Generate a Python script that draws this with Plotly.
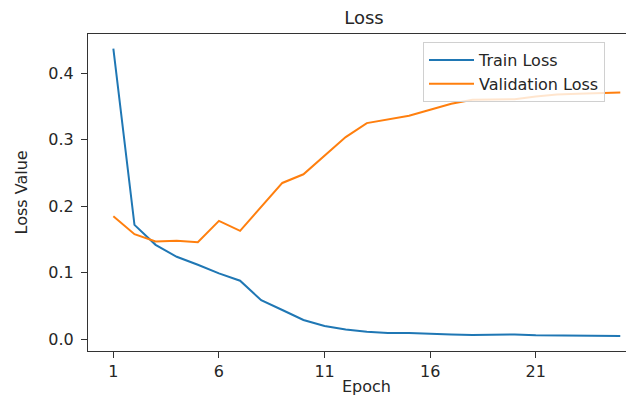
import plotly.graph_objects as go

epochs = list(range(1, 26))
train_loss = [0.437, 0.172, 0.142, 0.124, 0.112, 0.099, 0.088, 0.0587, 0.0440, 0.0290,
              0.0200, 0.0148, 0.0112, 0.0095, 0.0095, 0.0080, 0.0072, 0.0066, 0.0065, 0.0073,
              0.0060, 0.0055, 0.0052, 0.0050, 0.0048]
val_loss = [0.185, 0.158, 0.147, 0.148, 0.146, 0.178, 0.163, 0.199, 0.235, 0.248,
            0.276, 0.304, 0.325, 0.330, 0.336, 0.345, 0.354, 0.360, 0.361, 0.361,
            0.365, 0.368, 0.369, 0.370, 0.371]
x_ticks = [1, 6, 11, 16, 21]
y_ticks = [0.0, 0.1, 0.2, 0.3, 0.4]

FONT = "DejaVu Sans"
TXT = "#262626"

# page body has an 8px default margin; the figure is offset by it
OFF = 8
W, H = 634 - OFF, 396 - OFF
L, T, B = 88 - OFF, 34 - OFF, 396 - 351
PW, PH = W - L, H - T - B

fig = go.Figure()
fig.add_trace(go.Scatter(x=epochs, y=train_loss, mode="lines", name="Train Loss",
                         line=dict(color="#1f77b4", width=2)))
fig.add_trace(go.Scatter(x=epochs, y=val_loss, mode="lines", name="Validation Loss",
                         line=dict(color="#ff7f0e", width=2)))

fig.update_layout(
    width=W, height=H,
    margin=dict(l=L, r=0, t=T, b=B, autoexpand=False),
    paper_bgcolor="white", plot_bgcolor="white",
    font=dict(family=FONT, color=TXT, size=16),
    title=dict(text="Loss", x=(364 - OFF) / W, xanchor="center", y=1 - (18 - OFF) / H,
               yanchor="middle", font=dict(size=18, color=TXT)),
    showlegend=True,
    legend=dict(x=(423 - 88) / PW, xanchor="left", y=1 - 8 / PH, yanchor="top",
                bordercolor="#d0d0d0", borderwidth=1, bgcolor="rgba(255,255,255,0.8)",
                font=dict(size=16, color=TXT), tracegroupgap=0, itemwidth=45),
    annotations=[
        dict(text="Epoch", xref="paper", yref="paper", x=(366 - 88) / PW, y=0,
             yshift=-(386 - 351), xanchor="center", yanchor="middle",
             showarrow=False, font=dict(size=16, color=TXT)),
        dict(text="Loss Value", xref="paper", yref="paper", x=0, xshift=-(88 - 21),
             y=0.5, xanchor="center", yanchor="middle", textangle=-90,
             showarrow=False, font=dict(size=16, color=TXT)),
    ],
)
fig.update_xaxes(
    range=[-0.2, 25.65], tickvals=x_ticks, ticktext=[str(v) for v in x_ticks],
    showgrid=False, zeroline=False, showline=True, linecolor="#333333", linewidth=1.2,
    mirror=True, ticks="outside", ticklen=6, tickcolor="#333333", tickwidth=1.2,
    tickfont=dict(size=16, color=TXT), automargin=False,
)
fig.update_yaxes(
    range=[-0.0176, 0.4589], tickvals=y_ticks, ticktext=[f"{v:.1f}" for v in y_ticks],
    showgrid=False, zeroline=False, showline=True, linecolor="#333333", linewidth=1.2,
    mirror=False, ticks="outside", ticklen=6, tickcolor="#333333", tickwidth=1.2,
    tickfont=dict(size=16, color=TXT), automargin=False, ticklabelstandoff=4,
)

fig.write_html("out.html")
